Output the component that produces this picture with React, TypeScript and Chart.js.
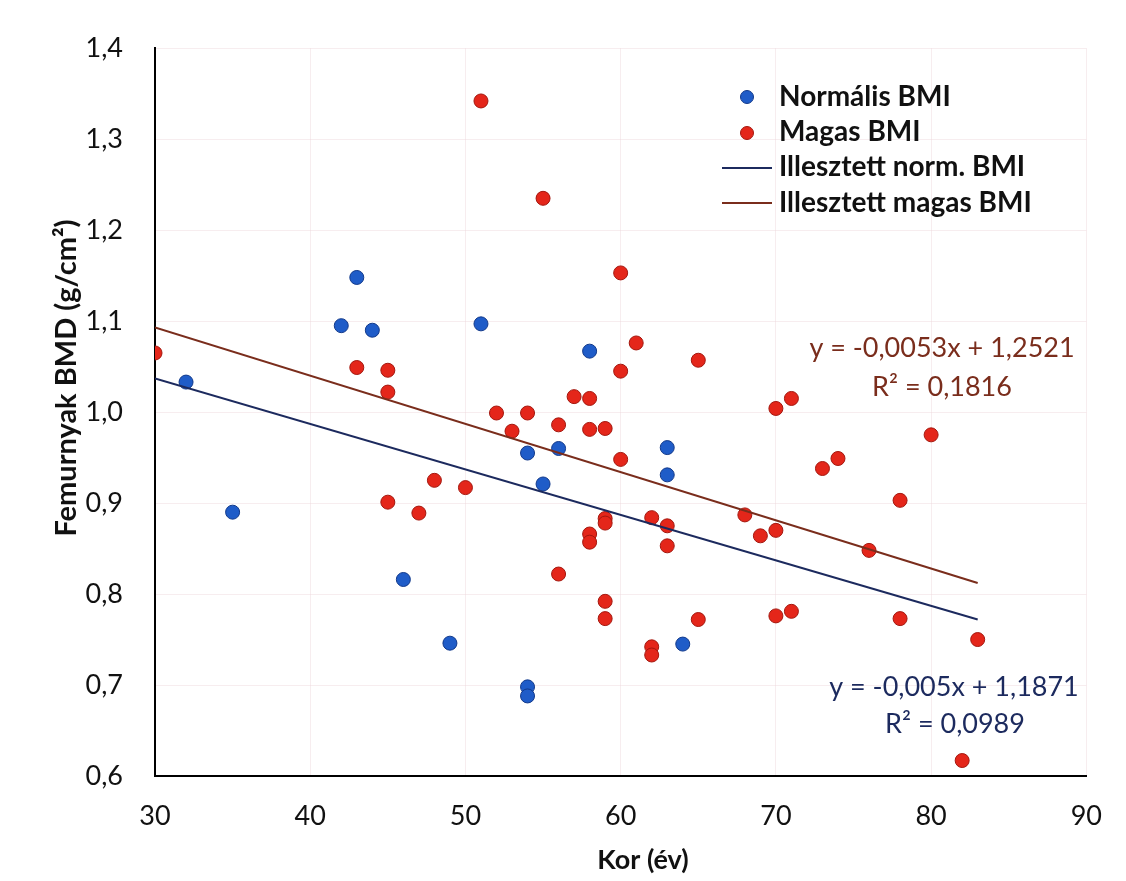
import React, { useEffect, useRef } from "react";
import { Chart, registerables } from "chart.js";

Chart.register(...registerables);

// Normális BMI (blue points)
const normAge = [32, 35, 42, 43, 44, 46, 49, 51, 54, 54, 54, 55, 56, 58, 63, 63, 64];
const normBmd = [1.033, 0.89, 1.095, 1.148, 1.09, 0.816, 0.746, 1.097, 0.955, 0.698, 0.688, 0.921, 0.96, 1.067, 0.961, 0.931, 0.745];

// Magas BMI (red points)
const highAge = [
  30, 43, 45, 45, 45, 47, 48, 50, 51, 52, 53, 54, 55, 56, 56, 57, 58, 58, 58, 58,
  59, 59, 59, 59, 59, 60, 60, 60, 61, 62, 62, 62, 63, 63, 65, 65, 68, 69, 70, 70,
  70, 71, 71, 73, 74, 76, 78, 78, 80, 82, 83,
];
const highBmd = [
  1.065, 1.049, 1.046, 1.022, 0.901, 0.889, 0.925, 0.917, 1.342, 0.999, 0.979, 0.999, 1.235, 0.986, 0.822, 1.017, 1.015, 0.981, 0.866, 0.857,
  0.982, 0.883, 0.878, 0.792, 0.773, 1.153, 1.045, 0.948, 1.076, 0.884, 0.742, 0.733, 0.875, 0.853, 1.057, 0.772, 0.887, 0.864, 1.004, 0.87,
  0.776, 1.015, 0.781, 0.938, 0.949, 0.848, 0.903, 0.773, 0.975, 0.617, 0.75,
];

// Fitted trend lines (end points)
const fitAge = [30, 83];
const normFit = [1.0371, 0.7721];
const highFit = [1.0931, 0.8122];

// Texts
const legendLabels = ["Normális BMI", "Magas BMI", "Illesztett norm. BMI", "Illesztett magas BMI"];
const highEq = ["y = -0,0053x + 1,2521", "R² = 0,1816"];
const normEq = ["y = -0,005x + 1,1871", "R² = 0,0989"];
const xTitle = "Kor (év)";
const yTitle = "Femurnyak BMD (g/cm²)";
const xTicks = [30, 40, 50, 60, 70, 80, 90];
const yTicks = [0.6, 0.7, 0.8, 0.9, 1.0, 1.1, 1.2, 1.3, 1.4];

const BLUE = "#1f5cc8";
const BLUE_BORDER = "#12398a";
const RED = "#e4261a";
const RED_BORDER = "#a3170e";
const NAVY = "#1c2a5e";
const BROWN = "#7a2d1c";
const FONT = "Lato, 'Open Sans', sans-serif";

const zip = (xs: number[], ys: number[]) => xs.map((x, i) => ({ x, y: ys[i] }));

const overlay = {
  id: "overlay",
  afterDraw(chart: any) {
    const ctx = chart.ctx;
    ctx.save();
    // Axis titles
    ctx.fillStyle = "#111";
    ctx.textAlign = "center";
    ctx.textBaseline = "alphabetic";
    ctx.font = `bold 27px ${FONT}`;
    ctx.fillText(xTitle, 643, 869);
    ctx.save();
    ctx.translate(76, 378);
    ctx.rotate(-Math.PI / 2);
    ctx.font = `bold 29px ${FONT}`;
    ctx.fillText(yTitle, 0, 0);
    ctx.restore();

    // Legend
    ctx.textAlign = "left";
    ctx.font = `bold 28px ${FONT}`;
    const rows = [97, 133, 168, 203];
    const base = [106, 141, 176, 212];
    [[BLUE, BLUE_BORDER], [RED, RED_BORDER]].forEach(([f, b], i) => {
      ctx.beginPath();
      ctx.arc(747, rows[i], 6.5, 0, Math.PI * 2);
      ctx.fillStyle = f;
      ctx.fill();
      ctx.lineWidth = 1;
      ctx.strokeStyle = b;
      ctx.stroke();
    });
    [NAVY, BROWN].forEach((c, i) => {
      ctx.beginPath();
      ctx.moveTo(722, rows[i + 2]);
      ctx.lineTo(772, rows[i + 2]);
      ctx.lineWidth = 2;
      ctx.strokeStyle = c;
      ctx.stroke();
    });
    ctx.fillStyle = "#111";
    legendLabels.forEach((t, i) => ctx.fillText(t, 779, base[i]));

    // Equations
    ctx.textAlign = "center";
    ctx.font = `27px ${FONT}`;
    ctx.fillStyle = BROWN;
    ctx.fillText(highEq[0], 942, 357);
    ctx.fillText(highEq[1], 942, 396);
    ctx.fillStyle = NAVY;
    ctx.fillText(normEq[0], 954, 696);
    ctx.fillText(normEq[1], 955, 733);
    ctx.restore();
  },
};

export default function App() {
  const ref = useRef<HTMLCanvasElement | null>(null);
  useEffect(() => {
    if (!ref.current) return;
    const chart = new Chart(ref.current, {
      type: "scatter",
      data: {
        datasets: [
          {
            type: "line",
            label: legendLabels[2],
            data: zip(fitAge, normFit),
            borderColor: NAVY,
            borderWidth: 2,
            pointRadius: 0,
            fill: false,
          } as any,
          {
            type: "line",
            label: legendLabels[3],
            data: zip(fitAge, highFit),
            borderColor: BROWN,
            borderWidth: 2,
            pointRadius: 0,
            fill: false,
          } as any,
          {
            label: legendLabels[0],
            data: zip(normAge, normBmd),
            backgroundColor: BLUE,
            borderColor: BLUE_BORDER,
            borderWidth: 1,
            pointRadius: 7,
          },
          {
            label: legendLabels[1],
            data: zip(highAge, highBmd),
            backgroundColor: RED,
            borderColor: RED_BORDER,
            borderWidth: 1,
            pointRadius: 7,
          },
        ],
      },
      options: {
        responsive: false,
        animation: false,
        layout: { padding: { left: 0, right: 34, top: 44, bottom: 0 } },
        plugins: {
          legend: { display: false },
          tooltip: { enabled: false },
        },
        scales: {
          x: {
            type: "linear",
            min: 30,
            max: 90,
            afterFit: (s: any) => {
              s.height = 105;
            },
            afterBuildTicks: (s: any) => {
              s.ticks = xTicks.map((v) => ({ value: v }));
            },
            border: { display: true, color: "#000", width: 2 },
            grid: { color: "rgba(238,214,220,0.45)", lineWidth: 1, drawTicks: false },
            ticks: {
              padding: 24,
              color: "#111",
              font: { family: FONT, size: 27 },
              maxRotation: 0,
            },
          },
          y: {
            type: "linear",
            min: 0.6,
            max: 1.4,
            afterFit: (s: any) => {
              s.width = 155;
            },
            afterBuildTicks: (s: any) => {
              s.ticks = yTicks.map((v) => ({ value: v }));
            },
            border: { display: true, color: "#000", width: 2 },
            grid: { color: "rgba(238,214,220,0.45)", lineWidth: 1, drawTicks: false },
            ticks: {
              padding: 32,
              color: "#111",
              font: { family: FONT, size: 27 },
              callback: (v: any) => Number(v).toFixed(1).replace(".", ","),
            },
          },
        },
      },
      plugins: [overlay],
    });
    return () => chart.destroy();
  }, []);
  return (
    <div style={{ position: "absolute", left: 0, top: 0, width: 1126, height: 881, background: "#fff" }}>
      <canvas ref={ref} width={1126} height={881} style={{ display: "block" }} />
    </div>
  );
}
